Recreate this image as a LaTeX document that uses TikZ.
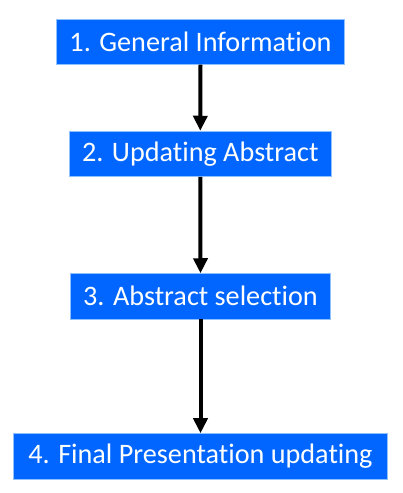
\documentclass[tikz,border=0pt]{standalone}
\usepackage{fontspec}
\setmainfont[Ligatures={NoCommon}]{Carlito}
\usetikzlibrary{arrows.meta}
\definecolor{boxblue}{HTML}{0066FF}
\definecolor{boxedge}{HTML}{8FC0FF}
\tikzset{
  stepbox/.style={draw=boxedge, line width=0.8pt, fill=boxblue, text=white,
    minimum height=45.3pt, inner sep=0pt, font=\fontsize{28.2}{32}\selectfont},
  flow/.style={line width=4pt, -{Triangle[width=14pt,length=15pt]}}
}
\begin{document}
\begin{tikzpicture}[x=1pt,y=1pt]
\useasboundingbox (0,0) rectangle (402,493);
\node[stepbox, minimum width=287.6pt] (b1) at (200.5,451.3) {1. General Information};
\node[stepbox, minimum width=261.3pt] (b2) at (200.3,339.2) {2. Updating Abstract};
\node[stepbox, minimum width=259.6pt] (b3) at (200.5,196.7) {3. Abstract selection};
\node[stepbox, minimum width=373.6pt] (b4) at (200.5,36.7) {4. Final Presentation updating};
\draw[flow] (b1.south) -- (b2.north);
\draw[flow] (b2.south) -- (b3.north);
\draw[flow] (b3.south) -- (b4.north);
\end{tikzpicture}
\end{document}
